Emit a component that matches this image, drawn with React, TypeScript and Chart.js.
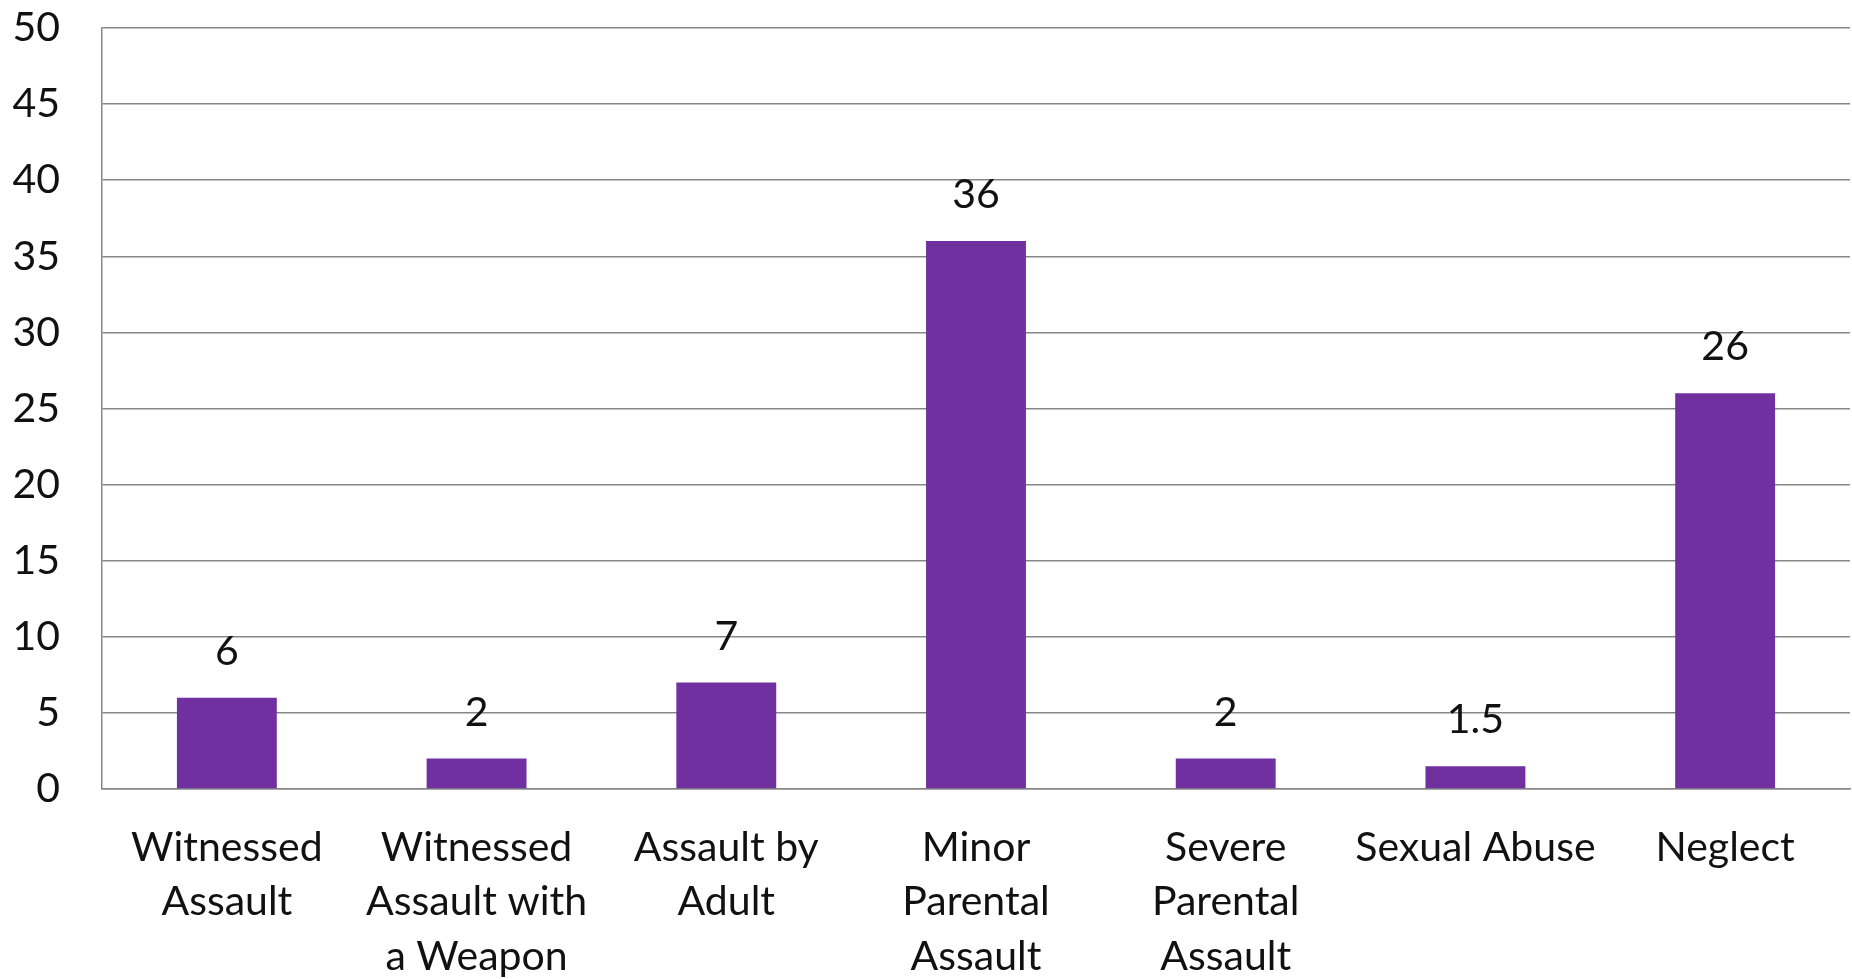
import React, { useEffect, useRef } from "react";
import { Chart, registerables } from "chart.js";

Chart.register(...registerables);

const categories: (string | string[])[] = [
  ["Witnessed", "Assault"],
  ["Witnessed", "Assault with", "a Weapon"],
  ["Assault by", "Adult"],
  ["Minor", "Parental", "Assault"],
  ["Severe", "Parental", "Assault"],
  ["Sexual Abuse"],
  ["Neglect"],
];
const values: number[] = [6, 2, 7, 36, 2, 1.5, 26];
const yTicks: number[] = [0, 5, 10, 15, 20, 25, 30, 35, 40, 45, 50];

const FONT_FAMILY = "Lato, 'Open Sans', sans-serif";
const FONT_SIZE = 41;
const BAR_COLOR = "#7030A0";
const GRID_COLOR = "#878787";
const TEXT_COLOR = "#111111";

const valueLabels = {
  id: "valueLabels",
  afterDatasetsDraw(chart: any) {
    const ctx = chart.ctx;
    const meta = chart.getDatasetMeta(0);
    ctx.save();
    ctx.font = `${FONT_SIZE}px ${FONT_FAMILY}`;
    ctx.fillStyle = TEXT_COLOR;
    ctx.textAlign = "center";
    ctx.textBaseline = "middle";
    meta.data.forEach((bar: any, i: number) => {
      ctx.fillText(String(values[i]), bar.x, bar.y - 46);
    });
    ctx.restore();
  },
};

export default function App() {
  const ref = useRef<HTMLCanvasElement | null>(null);
  useEffect(() => {
    if (!ref.current) return;
    const chart = new Chart(ref.current, {
      type: "bar",
      data: {
        labels: categories,
        datasets: [
          {
            data: values,
            backgroundColor: BAR_COLOR,
            borderWidth: 0,
            categoryPercentage: 1,
            barPercentage: 0.4,
          },
        ],
      },
      options: {
        animation: false,
        responsive: true,
        maintainAspectRatio: false,
        layout: { padding: { top: 28, right: 2, left: 0, bottom: 0 } },
        plugins: {
          legend: { display: false },
          tooltip: { enabled: false },
        },
        scales: {
          x: {
            grid: { display: false, drawTicks: false },
            border: { display: true, color: GRID_COLOR, width: 1.5 },
            ticks: {
              color: TEXT_COLOR,
              font: { family: FONT_FAMILY, size: FONT_SIZE, lineHeight: 1.32 },
              padding: 32,
              maxRotation: 0,
              autoSkip: false,
            },
            afterFit(scale: any) {
              scale.height = 979 - 789;
              scale.paddingLeft = 0;
              scale.paddingRight = 0;
            },
          },
          y: {
            min: 0,
            max: 50,
            afterBuildTicks(scale: any) {
              scale.ticks = yTicks.map((v) => ({ value: v }));
            },
            grid: { color: GRID_COLOR, lineWidth: 1.5, drawTicks: false },
            border: { display: true, color: GRID_COLOR, width: 1.5 },
            ticks: {
              color: TEXT_COLOR,
              font: { family: FONT_FAMILY, size: FONT_SIZE },
              padding: 42,
            },
            afterFit(scale: any) {
              scale.width = 102;
              scale.paddingTop = 0;
              scale.paddingBottom = 0;
            },
          },
        },
      },
      plugins: [valueLabels],
    });
    return () => chart.destroy();
  }, []);

  return (
    <div style={{ position: "absolute", left: 0, top: 0, width: 1852, height: 979, background: "#fff" }}>
      <canvas ref={ref} />
    </div>
  );
}
